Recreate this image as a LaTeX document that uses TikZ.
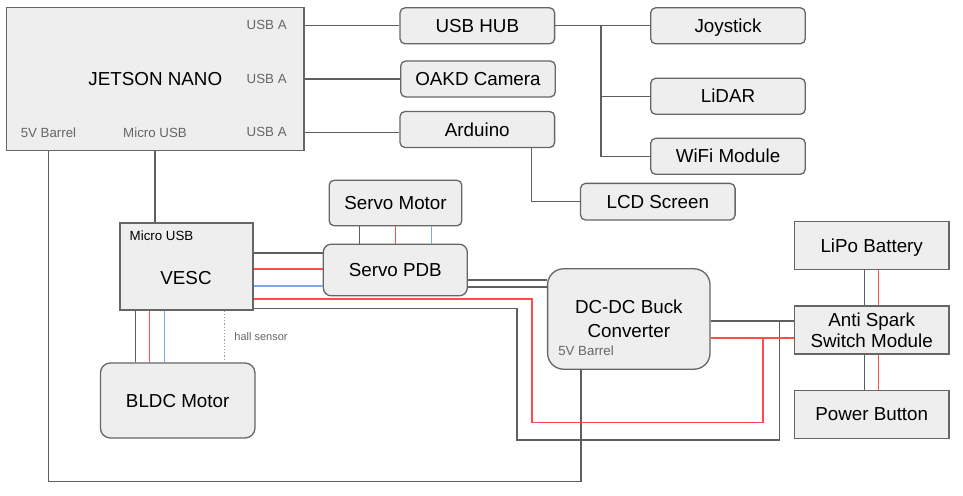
\documentclass[tikz,border=0pt]{standalone}
\usepackage{fontspec}
\setmainfont{Liberation Sans}
\definecolor{boxfill}{HTML}{EEEEEE}
\definecolor{boxline}{HTML}{666666}
\definecolor{wiregray}{HTML}{5F5F5F}
\definecolor{wirered}{HTML}{FF4D4D}
\definecolor{wireblue}{HTML}{7BA7EE}
\definecolor{portgray}{HTML}{666666}
\definecolor{hallgray}{HTML}{999999}
\begin{document}
\begin{tikzpicture}[x=0.5pt,y=-0.5pt,
    box/.style={draw=boxline, fill=boxfill, line width=0.65pt, minimum width=77.3pt, minimum height=18pt, inner sep=0pt, text height=6.7pt, text depth=0pt, font=\fontsize{9.4}{11}\selectfont},
    rbox/.style={box, rounded corners=2.5pt},
    port/.style={font=\fontsize{6.65}{8}\selectfont, text=portgray, inner sep=0pt},
    wgray/.style={draw=wiregray, line width=0.6pt},
    wred/.style={draw=wirered, line width=0.6pt},
    wblue/.style={draw=wireblue, line width=0.6pt}]
  \useasboundingbox (0,0) rectangle (963,496);
  \node[box, minimum width=148.7pt, minimum height=71.7pt] (jetson) at (155.3,79) {JETSON NANO};
  \node[port] (usba1) at (266.7,25.3) {USB A};
  \node[port] (usba2) at (266.7,79) {USB A};
  \node[port] (usba3) at (266.7,132.3) {USB A};
  \node[port] (jbarrel) at (48.5,132.3) {5V Barrel};
  \node[port] (jusb) at (155,132.3) {Micro USB};
  \node[rbox] (hub) at (477.3,25.8) {USB HUB};
  \node[rbox] (cam) at (478,79) {OAKD Camera};
  \node[rbox] (ard) at (477.3,129.5) {Arduino};
  \node[rbox] (joy) at (728,25.8) {Joystick};
  \node[rbox] (lidar) at (728,96.3) {LiDAR};
  \node[rbox] (wifi) at (728,156.3) {WiFi Module};
  \node[rbox, minimum height=18.3pt] (lcd) at (657.8,201.7) {LCD Screen};
  \node[rbox, minimum width=66.3pt, minimum height=22.8pt] (servo) at (395.5,203) {Servo Motor};
  \node[rbox, rounded corners=4pt, minimum width=72pt, minimum height=25.8pt] (pdb) at (395.3,270) {Servo PDB};
  \node[box, minimum width=66.5pt, minimum height=43.5pt] (vesc) at (186.5,266.5) {};
  \node[inner sep=0pt, font=\fontsize{9.4}{11}\selectfont] (vesclabel) at (186,278) {VESC};
  \node[port, text=black] (vusb) at (161.5,236) {Micro USB};
  \node[rbox, rounded corners=5pt, minimum height=37.5pt] (bldc) at (177.7,400.5) {BLDC Motor};
  \node[port, font=\fontsize{5.5}{6.6}\selectfont, anchor=west] (hall) at (234,337) {hall sensor};
  \node[rbox, rounded corners=8pt, minimum width=81.2pt, minimum height=50.2pt, align=center, text height=18.4pt, font=\fontsize{9.4}{11.7}\selectfont] (buck) at (628.8,319) {DC-DC Buck\\Converter};
  \node[port] (bbarrel) at (586,351) {5V Barrel};
  \node[box, minimum height=23.8pt] (lipo) at (871.7,245.5) {LiPo Battery};
  \node[box, minimum height=24pt, align=center, text height=17.1pt, font=\fontsize{9.4}{10.4}\selectfont] (anti) at (871.7,330) {Anti Spark\\Switch Module};
  \node[box, minimum height=24pt] (button) at (871.7,414.3) {Power Button};

  \draw[wgray] (hub.west) -- (hub.west -| jetson.east);
  \draw[wgray] (cam.west) -- (cam.west -| jetson.east);
  \draw[wgray] ([yshift=-1.4pt]ard.west) -- ([yshift=-1.4pt]ard.west -| jetson.east);
  \coordinate (split) at (601,25.3);
  \draw[wgray] (hub.east) -- (joy.west);
  \draw[wgray] (split) |- (wifi.west);
  \draw[wgray] (split |- lidar.west) -- (lidar.west);
  \draw[wgray] ([xshift=27pt]ard.south) |- (lcd.west);
  \draw[wgray] (jusb |- jetson.south) -- (jusb |- vesc.north);
  \coordinate (floor) at (0,481.7);
  \draw[wgray] (jbarrel |- jetson.south) -- (jbarrel |- floor) -| ([xshift=-23.9pt]buck.south);
  \foreach \dx/\w in {-18pt/wgray, 0pt/wred, 18pt/wblue}
    \draw[\w] ([xshift=\dx]servo.south) -- ([xshift=\dx]servo.south |- pdb.north);
  \foreach \dy/\w in {8.5pt/wgray, 0.5pt/wred, -8pt/wblue}
    \draw[\w] ([yshift=\dy]pdb.west) -- ([yshift=\dy]pdb.west -| vesc.east);
  \foreach \dy in {-5pt,-8.5pt}
    \draw[wgray] ([yshift=\dy]pdb.east) -- ([yshift=\dy]pdb.east -| buck.west);
  \coordinate (redx) at (532,422.3);
  \coordinate (grayx) at (517,440);
  \coordinate (redtap) at (763,338);
  \coordinate (graytap) at (779.5,321);
  \draw[wred] ([yshift=-16.25pt]vesc.east) -| (redx) -| (redtap);
  \draw[wgray] ([yshift=-21pt]vesc.east) -| (grayx) -| (graytap);
  \draw[wred] (redtap -| buck.east) -- (redtap -| anti.west);
  \draw[wgray] (graytap -| buck.east) -- (graytap -| anti.west);
  \foreach \dx/\w in {8pt/wgray, 15pt/wred, 22.5pt/wblue}
    \draw[\w] ([xshift=\dx]vesc.south west) -- ([xshift=\dx]vesc.south west |- bldc.north);
  \draw[draw=hallgray, line width=0.6pt, densely dotted] ([xshift=52.5pt]vesc.south west) -- ([xshift=52.5pt]vesc.south west |- bldc.north);
  \foreach \dx/\w in {-3.5pt/wgray, 3.5pt/wred} {
    \draw[\w] ([xshift=\dx]lipo.south) -- ([xshift=\dx]anti.north);
    \draw[\w] ([xshift=\dx]anti.south) -- ([xshift=\dx]button.north);
  }
\end{tikzpicture}
\end{document}
